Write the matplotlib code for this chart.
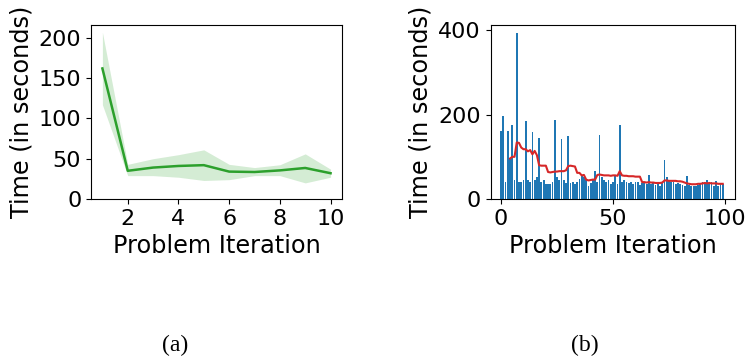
import matplotlib
matplotlib.use("Agg")
import matplotlib.pyplot as plt
import numpy as np

# (a) mean time per iteration with band
iters = [1, 2, 3, 4, 5, 6, 7, 8, 9, 10]
mean_time = [162, 35, 39, 41, 42, 34, 33.5, 35.5, 38.5, 32]
upper_time = [207, 43, 50, 55, 61, 43, 39, 42.5, 56, 37]
lower_time = [117, 29, 29, 27, 23, 24, 29, 29, 20, 27]

# (b) time for each of 100 problem iterations
bar_time = [162, 196, 40, 161, 98, 176, 46, 393, 40, 40,
            46, 185, 46, 41, 160, 46, 51, 144, 40, 44,
            35, 35, 36, 40, 187, 51, 46, 143, 44, 38,
            149, 38, 40, 36, 40, 48, 56, 52, 46, 31,
            38, 44, 66, 40, 152, 51, 44, 40, 46, 36,
            40, 55, 36, 175, 40, 44, 40, 38, 40, 36,
            40, 40, 33, 39, 40, 36, 58, 36, 38, 34,
            35, 30, 40, 92, 51, 44, 40, 40, 36, 38,
            35, 33, 32, 55, 34, 30, 32, 32, 34, 36,
            41, 36, 44, 39, 41, 32, 42, 31, 36, 35]

# red trend line, from iteration 4 to 99
trend_x = list(range(4, 100))
trend_time = [96, 100, 100, 134, 133, 122, 118, 118, 113, 116,
              106, 114, 104, 80, 79, 79, 79, 64, 63, 64,
              65, 65, 66, 66, 66, 68, 78, 79, 78, 77,
              62, 62, 56, 57, 46, 44, 45, 46, 46, 57,
              58, 57, 56, 56, 56, 55, 56, 56, 55, 66,
              56, 55, 55, 54, 54, 54, 53, 53, 53, 40,
              40, 39, 40, 39, 39, 38, 38, 38, 39, 44,
              44, 43, 43, 43, 43, 42, 42, 41, 39, 37,
              36, 35, 35, 35, 36, 36, 37, 38, 37, 38,
              37, 37, 37, 36, 36, 36]

plt.rcParams['font.family'] = 'DejaVu Sans'

fig = plt.figure(figsize=(7.47, 3.56), dpi=100)
ax1 = fig.add_axes([0.1218, 0.441, 0.336, 0.489])
ax2 = fig.add_axes([0.657, 0.441, 0.327, 0.489])

# left panel
ax1.fill_between(iters, lower_time, upper_time, color='tab:green', alpha=0.2, linewidth=0)
ax1.plot(iters, mean_time, color='tab:green', linewidth=1.8)
ax1.set_xticks([2, 4, 6, 8, 10])
ax1.set_yticks([0, 50, 100, 150, 200])
ax1.set_ylim(0, 216)
ax1.set_xlabel('Problem Iteration', fontsize=17.3)
ax1.set_ylabel('Time (in seconds)', fontsize=17.3)
ax1.tick_params(labelsize=16)

# right panel
ax2.bar(range(len(bar_time)), bar_time, color='tab:blue', width=0.8)
ax2.plot(trend_x, trend_time, color='tab:red', linewidth=1.5)
ax2.set_xlim(-4.6, 104.5)
ax2.set_xticks([0, 50, 100])
ax2.set_yticks([0, 200, 400])
ax2.set_xlabel('Problem Iteration', fontsize=17.3)
ax2.set_ylabel('Time (in seconds)', fontsize=17.3)
ax2.tick_params(labelsize=16)

fig.text(0.234, 0.031, '(a)', ha='center', va='center', fontsize=17, family='Liberation Serif')
fig.text(0.783, 0.031, '(b)', ha='center', va='center', fontsize=17, family='Liberation Serif')

fig.savefig('out.png', dpi=100)
